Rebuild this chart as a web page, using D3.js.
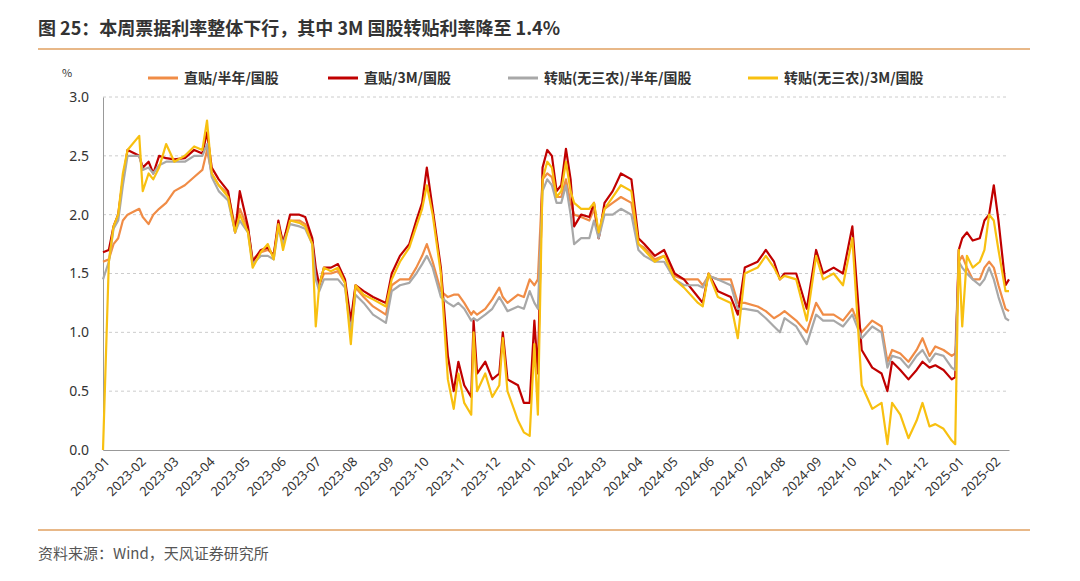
<!DOCTYPE html>
<html><head><meta charset="utf-8">
<script src="https://cdn.jsdelivr.net/npm/d3@7"></script>
<style>body{margin:0;background:#fff;font-family:"Noto Sans CJK SC","Noto Sans",sans-serif}</style>
</head><body><svg id="c" width="1080" height="581"></svg>
<script>
const dates=["2023-01-01","2023-01-06","2023-01-10","2023-01-14","2023-01-18","2023-01-22","2023-02-01","2023-02-04","2023-02-09","2023-02-13","2023-02-18","2023-02-24","2023-03-03","2023-03-12","2023-03-20","2023-03-27","2023-03-31","2023-04-04","2023-04-10","2023-04-18","2023-04-24","2023-04-28","2023-05-05","2023-05-09","2023-05-16","2023-05-22","2023-05-27","2023-05-31","2023-06-04","2023-06-10","2023-06-18","2023-06-23","2023-06-29","2023-07-02","2023-07-05","2023-07-09","2023-07-15","2023-07-21","2023-07-27","2023-08-01","2023-08-05","2023-08-12","2023-08-20","2023-08-31","2023-09-05","2023-09-12","2023-09-20","2023-09-26","2023-10-01","2023-10-05","2023-10-10","2023-10-17","2023-10-23","2023-10-28","2023-11-01","2023-11-06","2023-11-12","2023-11-14","2023-11-17","2023-11-24","2023-11-30","2023-12-06","2023-12-09","2023-12-13","2023-12-22","2023-12-27","2024-01-01","2024-01-05","2024-01-08","2024-01-12","2024-01-16","2024-01-20","2024-01-24","2024-01-28","2024-02-01","2024-02-05","2024-02-08","2024-02-14","2024-02-21","2024-02-25","2024-02-29","2024-03-05","2024-03-12","2024-03-19","2024-03-28","2024-04-03","2024-04-08","2024-04-17","2024-04-25","2024-05-04","2024-05-12","2024-05-24","2024-05-28","2024-06-02","2024-06-10","2024-06-21","2024-06-27","2024-07-03","2024-07-14","2024-07-21","2024-07-28","2024-08-02","2024-08-06","2024-08-16","2024-08-25","2024-09-02","2024-09-08","2024-09-17","2024-09-25","2024-10-03","2024-10-11","2024-10-20","2024-10-28","2024-11-02","2024-11-06","2024-11-13","2024-11-20","2024-11-27","2024-12-02","2024-12-08","2024-12-13","2024-12-20","2024-12-27","2024-12-30","2025-01-02","2025-01-05","2025-01-09","2025-01-14","2025-01-20","2025-01-24","2025-01-28","2025-02-01","2025-02-05","2025-02-11","2025-02-14"];
const red=[1.68,1.70,1.90,2.00,2.30,2.55,2.50,2.40,2.45,2.35,2.50,2.48,2.47,2.48,2.55,2.52,2.70,2.40,2.30,2.20,1.85,2.20,1.90,1.60,1.70,1.72,1.65,1.95,1.75,2.00,2.00,1.98,1.80,1.55,1.40,1.55,1.55,1.58,1.45,1.10,1.40,1.35,1.30,1.25,1.50,1.65,1.75,1.95,2.10,2.40,2.05,1.55,0.80,0.50,0.75,0.55,0.45,1.10,0.65,0.75,0.60,0.65,1.00,0.60,0.55,0.40,0.40,1.10,0.65,2.40,2.55,2.50,2.20,2.25,2.56,2.30,1.90,2.00,1.98,2.10,1.80,2.10,2.20,2.35,2.30,1.80,1.75,1.65,1.70,1.50,1.45,1.30,1.25,1.50,1.35,1.30,1.15,1.55,1.60,1.70,1.60,1.45,1.50,1.50,1.20,1.70,1.50,1.55,1.50,1.90,0.85,0.70,0.65,0.50,0.75,0.68,0.60,0.68,0.75,0.70,0.72,0.68,0.60,0.62,1.70,1.80,1.85,1.78,1.80,1.95,2.00,2.25,1.95,1.40,1.45];
const gold=[0.00,1.60,1.90,2.00,2.35,2.55,2.67,2.20,2.35,2.30,2.40,2.60,2.45,2.50,2.58,2.55,2.80,2.35,2.25,2.15,1.85,2.00,1.85,1.55,1.68,1.75,1.62,1.92,1.70,1.95,1.93,1.90,1.75,1.05,1.40,1.55,1.52,1.55,1.42,0.90,1.40,1.32,1.28,1.22,1.45,1.60,1.72,1.90,2.05,2.25,2.00,1.50,0.60,0.35,0.65,0.40,0.30,1.00,0.50,0.65,0.45,0.55,0.95,0.50,0.25,0.15,0.12,0.90,0.30,2.30,2.45,2.40,2.15,2.20,2.45,2.20,2.10,2.05,2.05,2.10,1.85,2.05,2.15,2.25,2.20,1.75,1.70,1.60,1.65,1.45,1.38,1.25,1.22,1.50,1.30,1.25,0.95,1.50,1.55,1.65,1.55,1.45,1.48,1.45,1.10,1.65,1.45,1.50,1.40,1.80,0.55,0.35,0.40,0.05,0.40,0.30,0.10,0.25,0.40,0.20,0.22,0.18,0.08,0.05,1.70,1.05,1.65,1.55,1.60,1.70,2.00,1.95,1.70,1.35,1.35];
const orange=[1.60,1.62,1.75,1.80,1.95,2.00,2.05,1.98,1.92,2.00,2.05,2.10,2.20,2.25,2.32,2.38,2.55,2.35,2.25,2.18,1.90,2.05,1.88,1.62,1.68,1.70,1.66,1.90,1.78,1.95,1.95,1.92,1.78,1.50,1.40,1.50,1.50,1.52,1.42,1.05,1.38,1.30,1.22,1.15,1.40,1.45,1.45,1.55,1.65,1.75,1.60,1.35,1.30,1.32,1.32,1.25,1.15,1.18,1.15,1.20,1.28,1.38,1.30,1.25,1.32,1.30,1.45,1.40,1.45,2.30,2.35,2.32,2.15,2.15,2.30,2.10,2.00,1.98,1.95,2.05,1.80,2.05,2.10,2.15,2.10,1.75,1.72,1.62,1.65,1.48,1.45,1.45,1.40,1.48,1.45,1.45,1.25,1.25,1.22,1.18,1.12,1.15,1.18,1.10,1.00,1.25,1.15,1.15,1.10,1.20,1.00,1.10,1.05,0.75,0.85,0.82,0.75,0.85,0.95,0.80,0.88,0.85,0.80,0.82,1.60,1.65,1.55,1.45,1.45,1.55,1.60,1.55,1.40,1.20,1.18];
const gray=[1.45,1.60,1.88,1.95,2.25,2.50,2.50,2.38,2.40,2.35,2.42,2.45,2.45,2.45,2.50,2.50,2.60,2.32,2.20,2.12,1.85,1.95,1.85,1.58,1.65,1.65,1.62,1.88,1.75,1.92,1.90,1.88,1.75,1.45,1.35,1.45,1.45,1.45,1.38,1.00,1.32,1.25,1.15,1.08,1.35,1.40,1.42,1.50,1.58,1.65,1.55,1.30,1.25,1.22,1.25,1.20,1.10,1.12,1.10,1.15,1.20,1.30,1.25,1.18,1.22,1.20,1.35,1.25,1.20,2.20,2.30,2.25,2.10,2.10,2.25,2.00,1.75,1.80,1.80,1.95,1.80,2.00,2.00,2.05,2.00,1.70,1.65,1.60,1.60,1.45,1.40,1.40,1.38,1.48,1.45,1.40,1.20,1.20,1.18,1.12,1.05,1.00,1.12,1.05,0.90,1.15,1.10,1.10,1.05,1.15,0.95,1.05,1.00,0.70,0.80,0.78,0.70,0.80,0.85,0.75,0.82,0.80,0.70,0.68,1.60,1.55,1.50,1.45,1.40,1.45,1.55,1.45,1.30,1.12,1.10];
const seriesNames=["直贴/半年/国股","直贴/3M/国股","转贴(无三农)/半年/国股","转贴(无三农)/3M/国股"];
const yTicks=[0,0.5,1.0,1.5,2.0,2.5,3.0];
const xTickLabels=["2023-01","2023-02","2023-03","2023-04","2023-05","2023-06","2023-07","2023-08","2023-09","2023-10","2023-11","2023-12","2024-01","2024-02","2024-03","2024-04","2024-05","2024-06","2024-07","2024-08","2024-09","2024-10","2024-11","2024-12","2025-01","2025-02"];

const svg=d3.select("#c");
const pd=d3.timeParse("%Y-%m-%d"), pm=d3.timeParse("%Y-%m");
const L=103,R=1009,T=97,B=450;
const x=d3.scaleTime().domain([pd("2023-01-01"),pd("2025-02-14")]).range([L,R]);
const y=d3.scaleLinear().domain([0,3]).range([B,T]);

svg.append("text").attr("x",38).attr("y",35).attr("font-size",18).attr("font-weight","bold").attr("fill","#333").text("图 25：本周票据利率整体下行，其中 3M 国股转贴利率降至 1.4%");
svg.append("line").attr("x1",38).attr("x2",1030).attr("y1",49).attr("y2",49).attr("stroke","#E0A060").attr("stroke-width",1.5);
svg.append("line").attr("x1",38).attr("x2",1030).attr("y1",530).attr("y2",530).attr("stroke","#E0A060").attr("stroke-width",1.5);
svg.append("text").attr("x",38).attr("y",559).attr("font-size",15).attr("fill","#555").text("资料来源：Wind，天风证券研究所");
svg.append("text").attr("x",62).attr("y",77).attr("font-size",11).attr("fill","#333").text("%");

yTicks.forEach(t=>{
  if(t>0) svg.append("line").attr("x1",L).attr("x2",R).attr("y1",y(t)).attr("y2",y(t)).attr("stroke","#ccc").attr("stroke-dasharray","3,3");
});
svg.append("g").attr("transform",`translate(${L},0)`).call(d3.axisLeft(y).tickValues(yTicks).tickFormat(d3.format(".1f")).tickSize(0).tickPadding(14))
  .call(g=>{g.select(".domain").attr("stroke","#999");g.selectAll("text").attr("font-size",14).attr("fill","#333").attr("font-family","Noto Sans");});
const xa=svg.append("g").attr("transform",`translate(0,${B})`).call(d3.axisBottom(x).tickValues(xTickLabels.map(pm)).tickFormat(d3.timeFormat("%Y-%m")).tickSize(0).tickPadding(6));
xa.select(".domain").attr("stroke","#999");
xa.selectAll("text").attr("font-size",13).attr("fill","#333").attr("font-family","Noto Sans").attr("text-anchor","end").attr("transform","rotate(-45)").attr("dx","-0.3em").attr("dy","0.6em");

const colors=["#F08C46","#C00000","#A8A8A8","#F8C010"];
const data=[orange,red,gray,gold];
const line=d3.line().x((d,i)=>x(pd(dates[i]))).y(d=>y(d));
data.forEach((s,k)=>svg.append("path").datum(s).attr("d",line).attr("fill","none").attr("stroke",colors[k]).attr("stroke-width",2.2).attr("stroke-linejoin","round"));

const lx=[148,328,508,748];
seriesNames.forEach((n,k)=>{
  svg.append("line").attr("x1",lx[k]).attr("x2",lx[k]+30).attr("y1",78).attr("y2",78).attr("stroke",colors[k]).attr("stroke-width",3);
  svg.append("text").attr("x",lx[k]+36).attr("y",83).attr("font-size",14).attr("font-weight","bold").attr("fill","#333").text(n);
});
</script></body></html>
